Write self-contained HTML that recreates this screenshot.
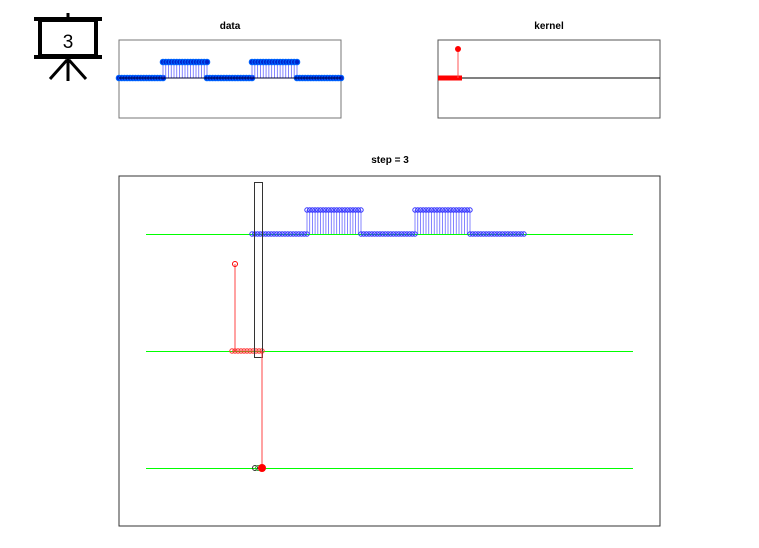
<!DOCTYPE html>
<html><head><meta charset="utf-8"><style>body{margin:0;background:#fff}svg{display:block}text{font-family:"Liberation Sans",sans-serif}</style></head>
<body>
<svg id="s" width="759" height="548" xmlns="http://www.w3.org/2000/svg">
<g stroke="#000" fill="none">
<line x1="68" y1="13" x2="68" y2="19" stroke-width="3"/>
<line x1="34" y1="19" x2="102" y2="19" stroke-width="4"/>
<rect x="40" y="20" width="56" height="36" stroke-width="4"/>
<line x1="34" y1="57" x2="102" y2="57" stroke-width="4"/>
<line x1="68" y1="58" x2="68" y2="81" stroke-width="3"/>
<line x1="67" y1="60" x2="50" y2="79" stroke-width="3"/>
<line x1="69" y1="60" x2="86" y2="79" stroke-width="3"/>
</g>
<text x="68" y="48" font-size="19" text-anchor="middle">3</text>
<text x="230" y="29" font-size="10" font-weight="bold" text-anchor="middle">data</text>
<text x="549" y="29" font-size="10" font-weight="bold" text-anchor="middle">kernel</text>
<text x="390" y="163" font-size="10" font-weight="bold" text-anchor="middle">step = 3</text>
<rect x="119" y="40" width="222" height="78" fill="none" stroke="#777"/>
<rect x="438" y="40" width="222" height="78" fill="none" stroke="#555"/>
<rect x="119" y="176" width="541" height="350" fill="none" stroke="#333"/>
<line x1="438" y1="78" x2="660" y2="78" stroke="#000"/>
<line x1="438" y1="78" x2="462" y2="78" stroke="#f00" stroke-width="5"/>
<line x1="458" y1="78" x2="458" y2="49" stroke="#f55"/>
<circle cx="458" cy="49" r="3" fill="#f00"/>
<line x1="146" y1="234.5" x2="633" y2="234.5" stroke="#0f0"/>
<line x1="146" y1="351.5" x2="633" y2="351.5" stroke="#0f0"/>
<line x1="146" y1="468.5" x2="633" y2="468.5" stroke="#0f0"/>
<g id="dyn"></g>
<rect x="254.5" y="182.5" width="8" height="175" fill="none" stroke="#333"/>
<line x1="262" y1="351" x2="262" y2="468" stroke="#f44"/>
<line x1="235" y1="264" x2="235" y2="351" stroke="#f44"/>
<circle cx="235" cy="264" r="2.5" fill="none" stroke="#f00"/>
<circle cx="255" cy="468" r="2.5" fill="none" stroke="#333"/>
<circle cx="258" cy="468" r="2.5" fill="none" stroke="#3a3"/>
<circle cx="262" cy="468" r="4" fill="#f00"/>
</svg>
<script>
var g=document.getElementById('dyn'),h='';
function seg(x1,x2,y,base,r,st,fill,n,sw){var d=(x2-x1)/n;
 for(var i=0;i<=n;i++){var x=x1+i*d;
  if(y!=base)h+='<line x1="'+x+'" y1="'+base+'" x2="'+x+'" y2="'+y+'" stroke="#66f" stroke-width="0.8"/>';
  h+='<circle cx="'+x+'" cy="'+y+'" r="'+r+'" fill="'+fill+'" stroke="'+st+'" stroke-width="'+sw+'"/>';}}
var xs=[119,163,207,252,297,341];
for(var k=0;k<5;k++){var hi=k%2==1;seg(xs[k],xs[k+1],hi?62:78,78,2.8,'#06f','#02c',16,1);}
h+='<line x1="119" y1="78" x2="341" y2="78" stroke="#003" stroke-width="1"/>';
var bx=[252,307,361,415,470,524];
for(var k=0;k<5;k++){var hi=k%2==1;seg(bx[k],bx[k+1],hi?210:234,234,2.2,'#33f','none',20,1);}
seg(232,262,351,351,2.2,'#f33','none',10,1);
g.innerHTML=h;
</script>
</body></html>
